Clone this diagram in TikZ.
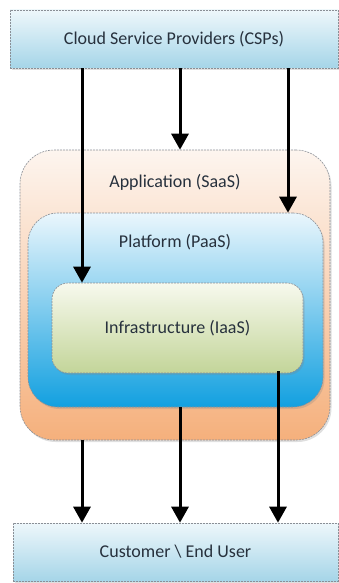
\documentclass[tikz,border=0pt]{standalone}
\usepackage{fontspec}
\setmainfont{Carlito}
\usetikzlibrary{arrows.meta,shadows}
\definecolor{txt}{HTML}{27313D}
\definecolor{edge}{HTML}{8A8F96}
\tikzset{
  dbox/.style={draw=edge, line width=0.6pt, dash pattern=on 2pt off 1pt,
    inner sep=0pt, text=txt, font=\fontsize{18}{20}\selectfont,
    drop shadow={opacity=0.25, shadow xshift=1.5pt, shadow yshift=-2pt}},
  bar/.style={dbox, top color=CspTop, bottom color=CspBot},
  lbl/.style={text=txt, font=\fontsize{18}{20}\selectfont, inner sep=1pt},
  arr/.style={line width=3pt, -{Triangle[width=17pt,length=16pt]}, black},
}
\definecolor{CspTop}{HTML}{EEF7FB}
\definecolor{CspBot}{HTML}{A5D5E8}
\definecolor{SaasTop}{HTML}{FDF5EF}
\definecolor{SaasBot}{HTML}{F5B07C}
\definecolor{PaasTop}{HTML}{EAF6FC}
\definecolor{PaasBot}{HTML}{12A0E0}
\definecolor{IaasTop}{HTML}{F7F9EE}
\definecolor{IaasBot}{HTML}{C3D599}
\begin{document}
\begin{tikzpicture}[x=1pt,y=-1pt]
\useasboundingbox (0,0) rectangle (339,583);
% boxes
\node[bar, minimum width=328pt, minimum height=58pt] (csp) at (174,39) {Cloud Service Providers (CSPs)};
\node[dbox, rounded corners=34pt, top color=SaasTop, bottom color=SaasBot,
  minimum width=310pt, minimum height=290pt] (saas) at (175,295) {};
\node[dbox, rounded corners=30pt, top color=PaasTop, bottom color=PaasBot,
  minimum width=295pt, minimum height=194pt] (paas) at (175.5,310) {};
\node[dbox, rounded corners=16pt, top color=IaasTop, bottom color=IaasBot,
  minimum width=251pt, minimum height=90pt] (iaas) at (177.5,328) {Infrastructure (IaaS)};
\node[lbl] (saaslbl) at (175,182) {Application (SaaS)};
\node[lbl] (paaslbl) at (175,242) {Platform (PaaS)};
\node[bar, minimum width=325pt, minimum height=58pt] (user) at (175.5,552) {Customer \textbackslash\ End User};
% arrow columns
\coordinate (c1) at (82,0);
\coordinate (c2) at (180,0);
\coordinate (c3) at (288,0);
\coordinate (c4) at (278,0);
% arrows from providers
\draw[arr] (csp.south -| c1) -- (iaas.north -| c1);
\draw[arr] (csp.south -| c2) -- (saas.north -| c2);
\draw[arr] (csp.south -| c3) -- (paas.north -| c3);
% arrows to users
\draw[arr] (saas.south -| c1) -- (user.north -| c1);
\draw[arr] (paas.south -| c2) -- (user.north -| c2);
\draw[arr] ([yshift=2pt]iaas.south -| c4) -- (user.north -| c4);
\end{tikzpicture}
\end{document}
